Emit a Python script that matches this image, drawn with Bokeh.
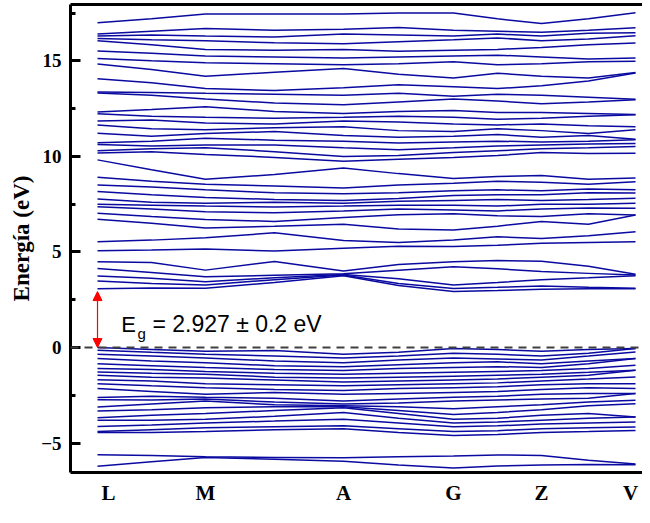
from bokeh.plotting import figure
from bokeh.models import (Range1d, FixedTicker, SingleIntervalTicker, LinearAxis,
                          Span, Arrow, NormalHead, Label, ColumnDataSource)
from bokeh.embed import file_html
from bokeh.resources import INLINE

# ---------------- data ----------------
# k-path nodes (fraction of path): L, L-M, M, M-A, A, A-G, G, G-Z, Z, Z-V, V
k_nodes = [0.0, 0.1004, 0.2007, 0.329, 0.4572, 0.5595, 0.6617, 0.7435, 0.8253, 0.9126, 1.0]
k_labels = ["L", "M", "A", "G", "Z", "V"]
k_label_pos = [0.0204, 0.2007, 0.4572, 0.6617, 0.8253, 0.9907]
eg_value = 2.927

# conduction bands (eV) at k_nodes
c01 = [3.08, 3.12, 3.10, 3.40, 3.76, 3.25, 2.93, 2.98, 3.05, 3.07, 3.08]
c02 = [3.48, 3.35, 3.27, 3.55, 3.79, 3.35, 3.09, 3.15, 3.22, 3.15, 3.10]
c03 = [3.74, 3.62, 3.44, 3.65, 3.82, 3.60, 3.27, 3.40, 3.55, 3.65, 3.76]
c04 = [4.14, 3.92, 3.70, 3.78, 3.86, 4.05, 4.23, 4.12, 3.98, 3.88, 3.79]
c05 = [4.49, 4.45, 4.05, 4.50, 4.00, 4.35, 4.49, 4.55, 4.52, 4.25, 3.84]
c06 = [5.07, 5.10, 5.15, 5.05, 5.20, 5.30, 5.28, 5.35, 5.45, 5.50, 5.54]
c07 = [5.54, 5.62, 5.75, 6.00, 5.60, 5.50, 5.63, 5.80, 5.70, 5.85, 6.06]
c08 = [6.71, 6.50, 6.25, 6.35, 6.45, 6.20, 6.15, 6.35, 6.60, 6.45, 6.94]
c09 = [7.03, 6.85, 6.70, 6.60, 6.80, 6.95, 7.00, 6.90, 6.85, 7.00, 6.94]
c10 = [7.37, 7.25, 7.10, 7.05, 7.15, 7.25, 7.20, 7.15, 7.25, 7.30, 7.29]
c11 = [7.50, 7.45, 7.40, 7.35, 7.40, 7.45, 7.45, 7.40, 7.50, 7.50, 7.55]
c12 = [7.77, 7.60, 7.55, 7.60, 7.55, 7.65, 7.70, 7.75, 7.70, 7.75, 7.81]
c13 = [8.17, 8.00, 7.85, 7.75, 7.70, 7.80, 7.95, 8.00, 8.00, 8.10, 8.08]
c14 = [8.50, 8.40, 8.25, 8.10, 8.05, 8.10, 8.20, 8.25, 8.20, 8.30, 8.25]
c15 = [8.91, 8.70, 8.55, 8.45, 8.35, 8.50, 8.60, 8.70, 8.65, 8.55, 8.68]
c16 = [9.82, 9.30, 8.80, 9.05, 9.40, 9.10, 8.85, 8.95, 9.00, 8.80, 8.87]
c17 = [10.18, 10.25, 10.10, 9.95, 9.75, 9.85, 9.95, 10.05, 10.20, 10.15, 10.17]
c18 = [10.30, 10.40, 10.45, 10.25, 10.00, 10.05, 10.20, 10.30, 10.40, 10.45, 10.52]
c19 = [10.62, 10.55, 10.60, 10.60, 10.45, 10.35, 10.45, 10.55, 10.60, 10.65, 10.68]
c20 = [10.71, 10.80, 10.95, 10.85, 10.80, 10.70, 10.75, 10.80, 10.75, 10.80, 10.87]
c21 = [11.21, 11.05, 11.20, 11.30, 11.10, 11.00, 11.05, 11.15, 11.00, 11.10, 10.90]
c22 = [11.65, 11.45, 11.40, 11.50, 11.55, 11.35, 11.30, 11.45, 11.35, 11.20, 11.39]
c23 = [11.85, 11.90, 11.75, 11.70, 11.85, 11.80, 11.70, 11.65, 11.70, 11.60, 11.55]
c24 = [12.23, 12.10, 12.05, 12.00, 12.05, 12.10, 12.05, 11.95, 12.00, 12.10, 12.18]
c25 = [12.32, 12.45, 12.60, 12.35, 12.25, 12.35, 12.40, 12.30, 12.30, 12.25, 12.20]
c26 = [13.32, 13.20, 13.00, 12.80, 12.70, 12.85, 13.00, 12.90, 12.75, 12.85, 12.97]
c27 = [13.37, 13.35, 13.30, 13.25, 13.20, 13.30, 13.15, 13.25, 13.20, 13.10, 12.99]
c28 = [14.07, 13.85, 13.55, 13.45, 13.60, 13.75, 13.65, 13.55, 13.70, 13.95, 14.37]
c29 = [14.84, 14.55, 14.20, 14.40, 14.60, 14.30, 14.10, 14.35, 14.20, 14.10, 14.39]
c30 = [15.12, 15.00, 14.90, 14.85, 14.80, 14.85, 14.95, 14.80, 14.85, 14.95, 14.98]
c31 = [15.52, 15.40, 15.25, 15.20, 15.15, 15.20, 15.25, 15.30, 15.20, 15.10, 15.15]
c32 = [16.05, 15.85, 15.60, 15.55, 15.60, 15.50, 15.55, 15.60, 15.70, 15.85, 15.94]
c33 = [16.17, 16.10, 16.05, 15.95, 15.90, 16.00, 16.10, 16.20, 16.05, 16.15, 16.32]
c34 = [16.30, 16.35, 16.30, 16.25, 16.40, 16.35, 16.30, 16.40, 16.30, 16.45, 16.47]
c35 = [16.40, 16.55, 16.70, 16.60, 16.65, 16.75, 16.60, 16.55, 16.50, 16.60, 16.73]
c36 = [17.00, 17.20, 17.45, 17.45, 17.45, 17.50, 17.50, 17.20, 16.95, 17.20, 17.52]

# valence bands (eV) at k_nodes
v01 = [0.00, -0.10, -0.20, -0.15, -0.35, -0.25, -0.05, -0.10, -0.20, -0.10, -0.05]
v02 = [-0.14, -0.25, -0.35, -0.45, -0.55, -0.45, -0.30, -0.35, -0.45, -0.30, -0.05]
v03 = [-0.35, -0.45, -0.55, -0.70, -0.80, -0.65, -0.55, -0.60, -0.65, -0.45, -0.23]
v04 = [-0.58, -0.70, -0.80, -0.95, -1.00, -0.90, -0.80, -0.75, -0.85, -0.70, -0.58]
v05 = [-0.85, -0.95, -1.05, -1.15, -1.20, -1.10, -1.05, -1.00, -1.05, -0.85, -0.58]
v06 = [-1.10, -1.15, -1.25, -1.35, -1.40, -1.35, -1.30, -1.25, -1.20, -1.10, -0.93]
v07 = [-1.28, -1.35, -1.40, -1.55, -1.60, -1.55, -1.50, -1.45, -1.40, -1.30, -1.19]
v08 = [-1.45, -1.55, -1.60, -1.70, -1.80, -1.75, -1.70, -1.65, -1.55, -1.45, -1.19]
v09 = [-1.68, -1.75, -1.90, -1.95, -2.00, -1.95, -1.90, -1.85, -1.75, -1.65, -1.54]
v10 = [-1.89, -2.00, -2.10, -2.20, -2.25, -2.15, -2.10, -2.05, -1.95, -1.90, -1.89]
v11 = [-2.15, -2.30, -2.45, -2.35, -2.45, -2.40, -2.35, -2.30, -2.20, -2.10, -2.15]
v12 = [-2.62, -2.55, -2.60, -2.65, -2.80, -2.70, -2.60, -2.55, -2.45, -2.40, -2.41]
v13 = [-2.73, -2.75, -2.70, -2.85, -2.95, -2.90, -2.80, -2.75, -2.70, -2.65, -2.41]
v14 = [-3.11, -2.95, -2.80, -3.00, -3.05, -3.10, -3.20, -3.10, -3.00, -2.85, -2.76]
v15 = [-3.32, -3.25, -3.15, -3.10, -3.10, -3.30, -3.50, -3.40, -3.25, -3.05, -2.94]
v16 = [-3.67, -3.55, -3.45, -3.30, -3.15, -3.45, -3.75, -3.70, -3.55, -3.45, -3.64]
v17 = [-3.81, -3.80, -3.75, -3.60, -3.40, -3.70, -3.95, -3.90, -3.80, -3.70, -3.64]
v18 = [-4.13, -4.05, -3.95, -3.85, -3.75, -3.95, -4.15, -4.10, -4.00, -3.95, -3.90]
v19 = [-4.40, -4.30, -4.20, -4.15, -4.10, -4.25, -4.40, -4.35, -4.25, -4.20, -4.16]
v20 = [-4.45, -4.45, -4.40, -4.30, -4.25, -4.45, -4.60, -4.55, -4.45, -4.40, -4.34]
v21 = [-5.61, -5.65, -5.72, -5.75, -5.77, -5.72, -5.68, -5.62, -5.65, -5.90, -6.10]
v22 = [-6.21, -5.98, -5.76, -5.85, -5.95, -6.15, -6.30, -6.20, -6.15, -6.12, -6.14]

conduction = [c01, c02, c03, c04, c05, c06, c07, c08, c09, c10, c11, c12,
              c13, c14, c15, c16, c17, c18, c19, c20, c21, c22, c23, c24,
              c25, c26, c27, c28, c29, c30, c31, c32, c33, c34, c35, c36]
valence = [v01, v02, v03, v04, v05, v06, v07, v08, v09, v10, v11,
           v12, v13, v14, v15, v16, v17, v18, v19, v20, v21, v22]

# ---------------- figure ----------------
SERIF = "Liberation Serif"
SANS = "Liberation Sans"
BAND_COLOR = "#0A0AA0"

p = figure(width=642, height=507,
           x_range=Range1d(-0.0502, 1.0130), y_range=Range1d(-6.54, 17.95),
           output_backend="svg", toolbar_location=None,
           min_border_left=70, min_border_right=0, min_border_top=4, min_border_bottom=31)
p.outline_line_color = None
p.xgrid.grid_line_color = None
p.ygrid.grid_line_color = None
p.background_fill_color = "white"
p.border_fill_color = "white"

bands = conduction + valence
src = ColumnDataSource(dict(xs=[k_nodes] * len(bands), ys=bands))
p.multi_line(xs="xs", ys="ys", source=src, line_color=BAND_COLOR, line_width=1.5)

# Fermi level
p.add_layout(Span(location=0, dimension="width", line_color="#404040",
                  line_width=2, line_dash="8 6"))

# gap arrow
p.add_layout(Arrow(start=NormalHead(size=9, fill_color="red", line_color="red"),
                   end=NormalHead(size=9, fill_color="red", line_color="red"),
                   x_start=k_nodes[0], y_start=0, x_end=k_nodes[0], y_end=eg_value,
                   line_color="red", line_width=1.2))

p.add_layout(Label(x=0.044, y=1.22, text="E", text_font=SANS, text_font_size="22px",
                   text_color="black", text_baseline="alphabetic"))
p.add_layout(Label(x=0.0743, y=0.74, text="g", text_font=SANS, text_font_size="15px",
                   text_color="black", text_baseline="alphabetic"))
p.add_layout(Label(x=0.102, y=1.22, text="= %.3f ± 0.2 eV" % eg_value, text_font=SANS,
                   text_font_size="23px", text_color="black", text_baseline="alphabetic"))

# x axis
xa = p.xaxis[0]
xa.ticker = FixedTicker(ticks=k_label_pos)
xa.major_label_overrides = {pos: lab for pos, lab in zip(k_label_pos, k_labels)}
xa.major_tick_line_color = None
xa.minor_tick_line_color = None
xa.axis_line_width = 3
xa.axis_line_color = "black"
xa.major_label_text_font = SERIF
xa.major_label_text_font_style = "bold"
xa.major_label_text_font_size = "21px"
xa.major_label_text_color = "black"
xa.major_label_standoff = 2

# y axis
ya = p.yaxis[0]
ya.ticker = SingleIntervalTicker(interval=5, num_minor_ticks=2)
ya.major_tick_in = 10
ya.major_tick_out = 0
ya.minor_tick_in = 5
ya.minor_tick_out = 0
ya.major_tick_line_width = 3
ya.minor_tick_line_width = 3
ya.axis_line_width = 3
ya.axis_line_color = "black"
ya.major_label_text_font = SERIF
ya.major_label_text_font_style = "bold"
ya.major_label_text_font_size = "19px"
ya.major_label_text_color = "black"
ya.major_label_standoff = 9
ya.axis_label = "Energía (eV)"
ya.axis_label_text_font = SERIF
ya.axis_label_text_font_style = "bold"
ya.axis_label_text_font_size = "23px"
ya.axis_label_text_color = "black"
ya.axis_label_standoff = 4

# top border line
top = LinearAxis(ticker=FixedTicker(ticks=[]), major_label_text_font_size="0px",
                 axis_line_width=3, axis_line_color="black",
                 major_tick_line_color=None, minor_tick_line_color=None)
p.add_layout(top, "above")

open("out.html", "w").write(file_html(p, INLINE))
